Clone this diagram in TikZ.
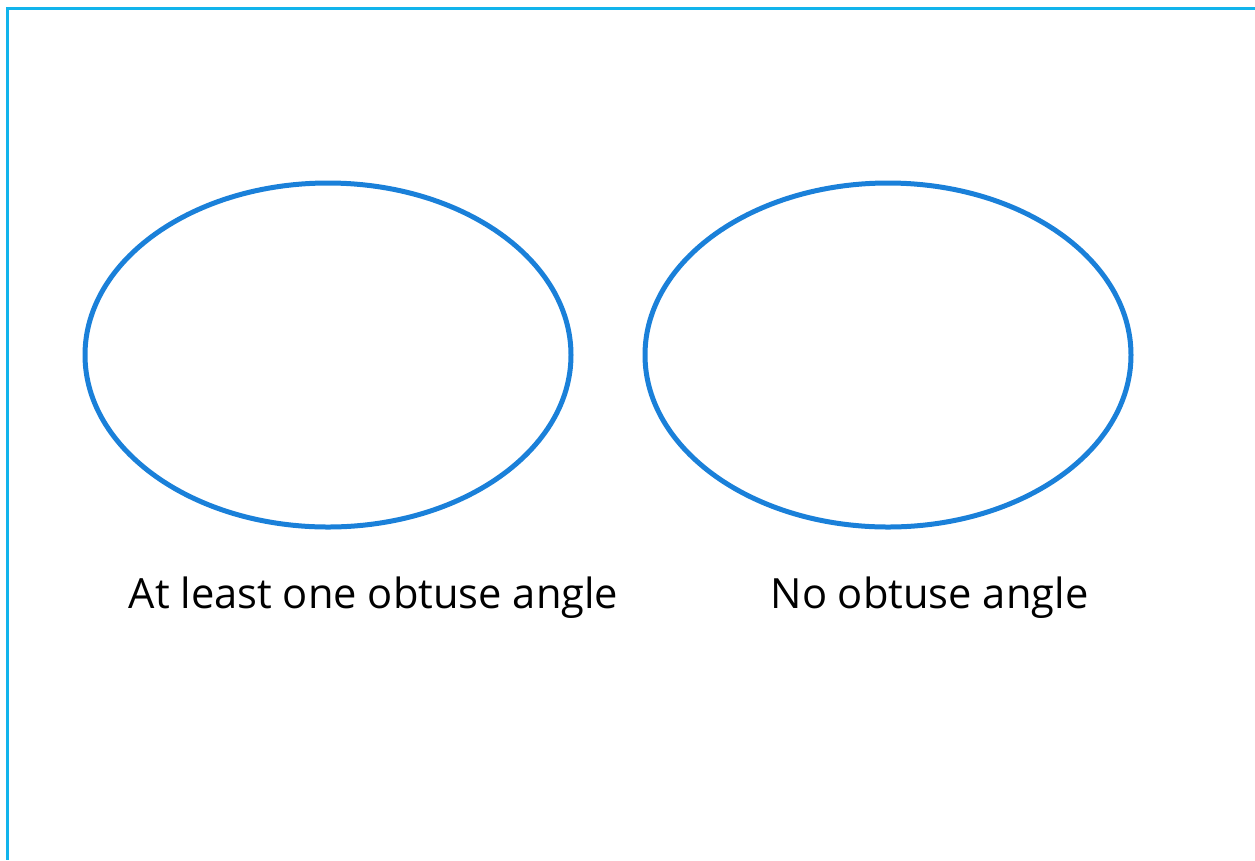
\documentclass[tikz,border=0pt]{standalone}
\usepackage{fontspec}
\setmainfont{Open Sans}
\definecolor{framecyan}{HTML}{12B4EC}
\definecolor{setblue}{HTML}{1A80D9}

\begin{document}
\begin{tikzpicture}[x=0.02cm, y=-0.02cm,
    setline/.style={setblue, line width=0.1cm},
    setlabel/.style={font=\fontsize{23.7}{28}\selectfont}]
  \useasboundingbox (0,0) rectangle (1255,860);
  % Open frame along the top and left.
  \draw[framecyan, line width=0.06cm] (1255,8) -- (7.3,8) -- (7.3,860);
  % The two sets.
  \draw[setline] (328,355) ellipse [x radius=243, y radius=172];
  \draw[setline] (888,355) ellipse [x radius=243, y radius=172];
  % Labels under each set.
  \node[setlabel] (obtuse)   at (373.5,598) {At least one obtuse angle};
  \node[setlabel] (noobtuse) at (929.5,598) {No obtuse angle};
\end{tikzpicture}
\end{document}
